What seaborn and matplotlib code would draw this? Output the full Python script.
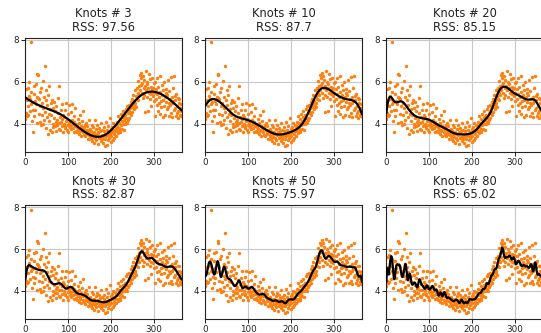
import numpy as np
import pandas as pd
import matplotlib
matplotlib.use("Agg")
import matplotlib.pyplot as plt
import seaborn as sns

# Daily observations, one value per day of the year (grouped by month)
jan = [4.21, 5.63, 4.48, 5.12, 4.35, 5.71, 4.83, 4.42, 5.34, 5.97, 4.58, 5.18, 7.88, 4.93, 5.52,
       4.12, 5.04, 4.67, 3.61, 5.41, 5.79, 4.38, 5.09, 4.63, 5.88, 4.91, 5.27, 4.04, 6.38, 5.22]
feb = [6.31, 4.47, 5.16, 4.08, 5.53, 4.86, 3.93, 5.68, 4.41, 4.97, 3.98, 6.02, 4.72, 5.29, 4.17,
       6.77, 4.57, 5.13, 3.79, 5.62, 4.29, 4.88, 3.52, 5.36, 4.46, 5.81, 4.13, 4.69, 3.71, 4.96]
mar = [4.43, 3.58, 5.14, 3.97, 4.74, 3.82, 4.27, 5.03, 3.88, 4.61, 4.09, 3.66, 4.84, 4.19, 3.91,
       4.52, 5.21, 3.76, 4.02, 5.79, 4.31, 3.69, 4.63, 4.06, 3.87, 4.94, 4.23, 3.57, 4.41, 3.98]
apr = [4.32, 3.78, 4.64, 3.86, 4.12, 4.97, 3.68, 4.23, 3.93, 4.46, 3.57, 4.03, 4.89, 3.81, 4.14,
       3.92, 4.53, 3.72, 4.18, 4.94, 3.79, 3.99, 4.34, 3.59, 4.08, 3.87, 4.72, 3.66, 3.97, 3.83]
may = [3.91, 3.57, 4.22, 3.76, 3.48, 4.03, 3.69, 4.41, 3.62, 3.89, 3.42, 3.81, 4.13, 3.58, 3.73,
       4.58, 3.47, 3.84, 3.93, 3.38, 3.71, 4.04, 3.56, 3.49, 3.87, 3.28, 3.67, 4.19, 3.61, 3.46]
jun = [3.39, 3.72, 3.27, 3.63, 3.94, 3.18, 3.52, 3.83, 3.37, 3.09, 3.61, 4.17, 3.31, 3.48, 3.74,
       3.21, 3.43, 3.91, 3.58, 3.02, 3.53, 3.29, 3.79, 3.36, 3.64, 3.16, 4.02, 3.47, 3.26, 3.68]
jul = [3.41, 3.07, 3.62, 3.81, 2.92, 3.49, 3.28, 4.08, 3.38, 2.98, 3.71, 3.46, 3.19, 3.88, 3.57,
       3.33, 4.28, 3.51, 3.12, 3.73, 3.42, 3.84, 3.59, 3.22, 4.01, 3.48, 3.68, 3.31, 3.92, 3.63]
aug = [3.78, 3.41, 4.07, 3.62, 3.86, 4.38, 3.53, 3.79, 4.02, 3.67, 4.21, 3.58, 4.47, 3.91, 4.11,
       3.76, 4.29, 3.97, 4.58, 3.71, 4.16, 4.39, 3.98, 4.69, 4.08, 4.27, 4.82, 4.01, 4.49, 4.18]
sep = [4.62, 4.28, 4.87, 4.51, 4.73, 5.02, 4.39, 4.78, 5.18, 4.57, 4.91, 5.37, 4.68, 5.09, 4.86,
       5.58, 4.97, 4.77, 5.31, 5.68, 5.19, 5.47, 6.03, 5.12, 5.79, 5.38, 6.31, 5.61, 6.17, 5.86]
octo = [6.42, 5.48, 5.93, 6.27, 5.21, 5.72, 6.08, 5.37, 4.53, 5.81, 6.49, 5.58, 5.28, 6.01, 5.87,
        4.61, 5.69, 6.38, 5.46, 5.17, 6.12, 5.76, 5.39, 4.82, 5.63, 6.19, 5.31, 5.71, 5.07, 5.92]
nov = [5.48, 4.37, 5.98, 5.16, 5.67, 4.88, 5.41, 6.18, 4.58, 5.77, 5.26, 4.96, 6.27, 4.46, 5.52,
       5.08, 4.79, 5.86, 5.36, 4.29, 5.58, 5.13, 5.97, 4.86, 5.28, 4.39, 5.66, 5.04, 5.47, 4.68]
dec = [5.37, 4.78, 6.08, 4.96, 4.36, 5.57, 5.18, 4.87, 6.21, 4.48, 5.29, 4.97, 4.31, 5.68, 5.06,
       4.66, 6.28, 5.33, 4.74, 5.14, 4.37, 5.42, 4.83, 4.52, 5.21, 4.61, 4.28, 4.97, 5.18, 4.43,
       4.76, 4.34, 4.92, 4.58, 4.41]

values = np.array(jan + feb + mar + apr + may + jun + jul + aug + sep + octo + nov + dec)
days = np.arange(1, len(values) + 1, dtype=float)

knots = [3, 10, 20, 30, 50, 80]
rss_labels = ["97.56", "87.7", "85.15", "82.87", "75.97", "65.02"]


def bspline_design(x, n_knots, degree=3):
    """Cubic B-spline basis with interior knots at quantiles of x."""
    lo, hi = x.min(), x.max()
    inner = np.quantile(x, np.linspace(0, 1, n_knots + 2)[1:-1])
    t = np.concatenate([np.repeat(lo, degree + 1), inner, np.repeat(hi, degree + 1)])
    n = len(t) - 1
    B = np.zeros((len(x), n))
    for i in range(n):
        if t[i] < t[i + 1]:
            B[:, i] = (x >= t[i]) & (x < t[i + 1])
    last = np.max(np.nonzero(t[:-1] < t[1:]))
    B[x == hi, last] = 1.0
    for d in range(1, degree + 1):
        Bn = np.zeros((len(x), n - d))
        for i in range(n - d):
            left = t[i + d] - t[i]
            right = t[i + d + 1] - t[i + 1]
            term = np.zeros(len(x))
            if left > 0:
                term += (x - t[i]) / left * B[:, i]
            if right > 0:
                term += (t[i + d + 1] - x) / right * B[:, i + 1]
            Bn[:, i] = term
        B = Bn
    return B


sns.set_style("ticks")
plt.rcParams["font.family"] = ["DejaVu Sans"]

fig = plt.figure(figsize=(5.41, 3.33), dpi=100)
lefts = [0.0462, 0.379, 0.7135]
bottoms = [0.5444, 0.042]
w, h = 0.290, 0.342

df = pd.DataFrame({"day": days, "value": values})

for idx, (k, rss) in enumerate(zip(knots, rss_labels)):
    r, c = divmod(idx, 3)
    ax = fig.add_axes([lefts[c], bottoms[r], w, h])
    X = bspline_design(days, k)
    coef, *_ = np.linalg.lstsq(X, values, rcond=None)
    fit = pd.DataFrame({"day": days, "fit": X @ coef})

    ax.grid(True, color="#c8c8c8", lw=0.8, zorder=0)
    ax.set_axisbelow(True)
    sns.scatterplot(data=df, x="day", y="value", ax=ax, color="#ff7f0e",
                    s=6, linewidth=0, zorder=2)
    sns.lineplot(data=fit, x="day", y="fit", ax=ax, color="black", lw=1.6,
                 estimator=None, zorder=3)

    ax.set_xlim(0, 365)
    ax.set_ylim(2.65, 8.1)
    ax.set_xticks([0, 100, 200, 300])
    ax.set_yticks([4, 6, 8])
    ax.set_xlabel("")
    ax.set_ylabel("")
    ax.tick_params(labelsize=6.3, length=3, width=0.7, pad=1.5, colors="#222222")
    for s in ax.spines.values():
        s.set_linewidth(0.8)
        s.set_color("#222222")
    ax.set_title(f"Knots # {k}\nRSS: {rss}", fontsize=8.3, linespacing=1.05,
                 pad=5, color="#222222")

fig.savefig("out.png", dpi=100)
